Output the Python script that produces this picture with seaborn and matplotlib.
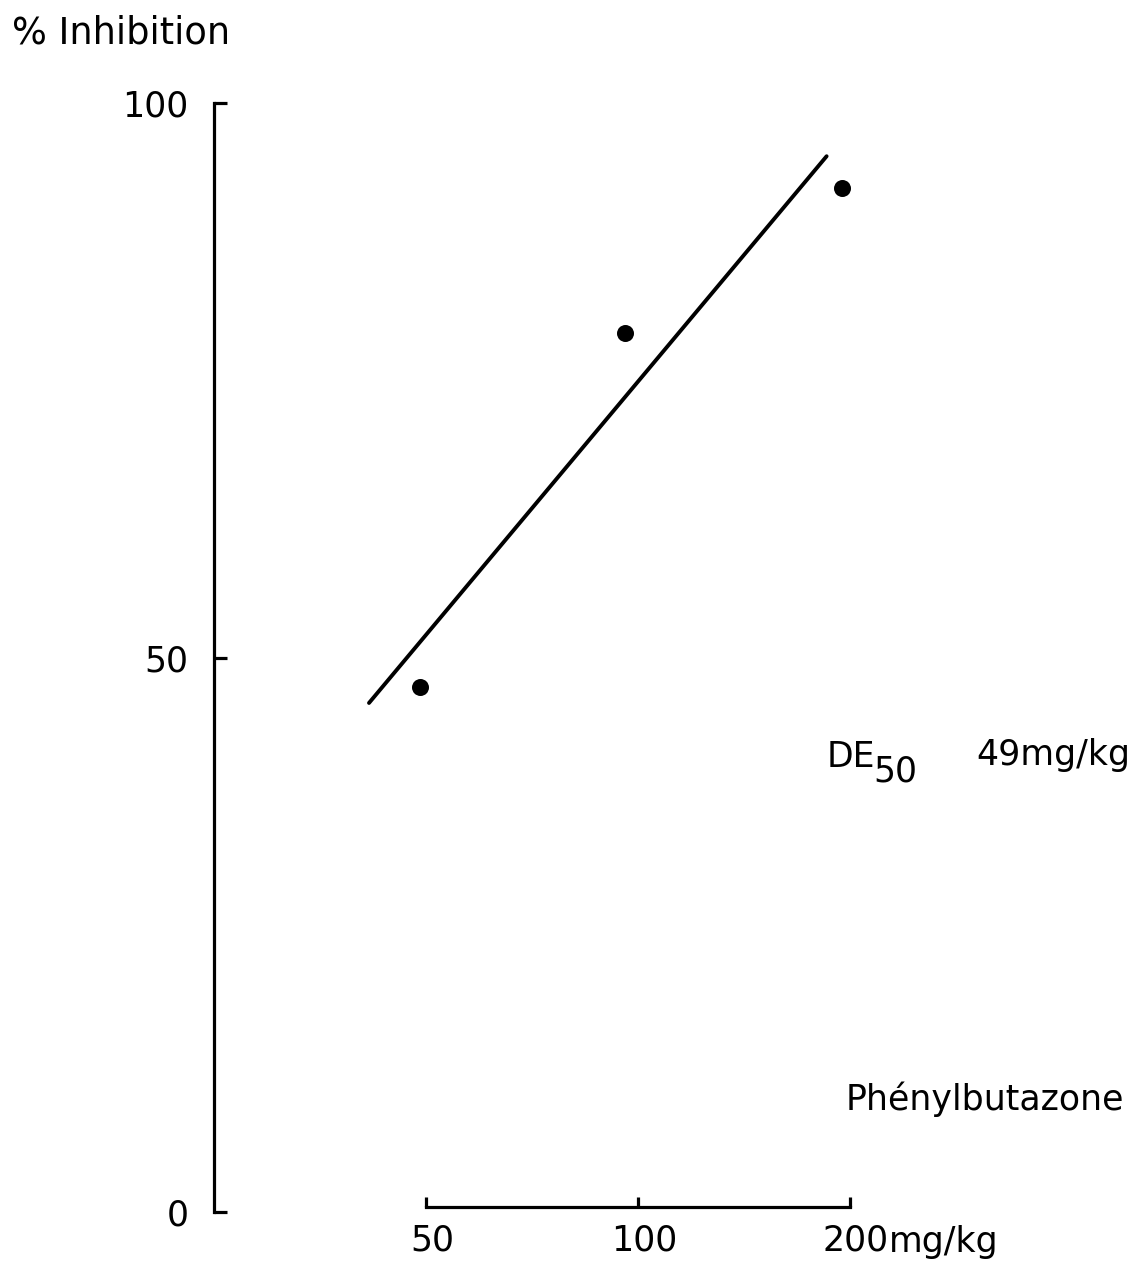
import matplotlib
matplotlib.use("Agg")
import matplotlib.pyplot as plt
import matplotlib.transforms as mtransforms
import seaborn as sns
import pandas as pd

# ---- data ----
dose_mgkg = [49.0, 95.8, 194.8]          # observed doses (log axis)
inhibition_pct = [47.3, 79.3, 92.3]      # % inhibition
fit_dose = [41.5, 185.3]                 # regression line end points
fit_inhib = [45.9, 95.2]
x_ticks = [50, 100, 200]
x_tick_labels = ["50", "100", "200"]
y_ticks = [0, 50, 100]
y_tick_labels = ["0", "50", "100"]

sns.set_style("ticks")
plt.rcParams["font.family"] = ["DejaVu Sans"]
plt.rcParams["text.color"] = "black"
plt.rcParams["xtick.direction"] = "in"
plt.rcParams["ytick.direction"] = "in"

W, H = 1142, 1264
fig = plt.figure(figsize=(W / 100, H / 100), dpi=100)
ax = fig.add_axes([214 / W, 1 - 1212 / H, (W - 214) / W, (1212 - 103) / H])

pts = pd.DataFrame({"dose": dose_mgkg, "inh": inhibition_pct})
fit = pd.DataFrame({"dose": fit_dose, "inh": fit_inhib})

sns.lineplot(data=fit, x="dose", y="inh", ax=ax, color="black", linewidth=2.8)
sns.scatterplot(data=pts, x="dose", y="inh", ax=ax, color="black", s=150,
                edgecolor="black", linewidth=0)

ax.set_xscale("log")
ax.set_xlim(25, 519.7)
ax.set_ylim(0, 100)

ax.set_xticks(x_ticks)
ax.set_xticklabels(x_tick_labels)
ax.xaxis.set_minor_locator(matplotlib.ticker.NullLocator())
ax.set_yticks(y_ticks)
ax.set_yticklabels(y_tick_labels)

for s in ["top", "right"]:
    ax.spines[s].set_visible(False)
ax.spines["left"].set_bounds(0, 100)
ax.spines["bottom"].set_bounds(50, 200)
ax.spines["bottom"].set_position(("outward", -3.6))
for s in ["left", "bottom"]:
    ax.spines[s].set_linewidth(2.3)
    ax.spines[s].set_color("black")

ax.tick_params(axis="y", direction="in", length=9.4, width=2.3,
               labelsize=25, pad=18.5, colors="black")
ax.tick_params(axis="x", direction="in", length=7, width=2.3,
               labelsize=25, pad=12, colors="black")
shift = mtransforms.ScaledTranslation(6 / 100, 0, fig.dpi_scale_trans)
for lab in ax.get_xticklabels():
    lab.set_transform(lab.get_transform() + shift)
ax.set_xlabel("")
ax.set_ylabel("")
ax.grid(False)
ax.patch.set_alpha(0)

ax.annotate("mg/kg", xy=(200, 0), xycoords=("data", "axes fraction"),
            xytext=(28, -9.5), textcoords="offset points",
            ha="left", va="top", fontsize=25, color="black")

def ftext(x, y, s, **kw):
    fig.text(x / W, 1 - y / H, s, ha="left", va="baseline", color="black", **kw)

ftext(12, 44, "% Inhibition", fontsize=26.5)
ftext(827, 767, "DE", fontsize=25)
ftext(873, 781, "50", fontsize=25)
ftext(976, 765, "49mg/kg", fontsize=25)
ftext(846, 1110, "Phénylbutazone", fontsize=25)

fig.savefig("out.png", dpi=100, facecolor="white")
